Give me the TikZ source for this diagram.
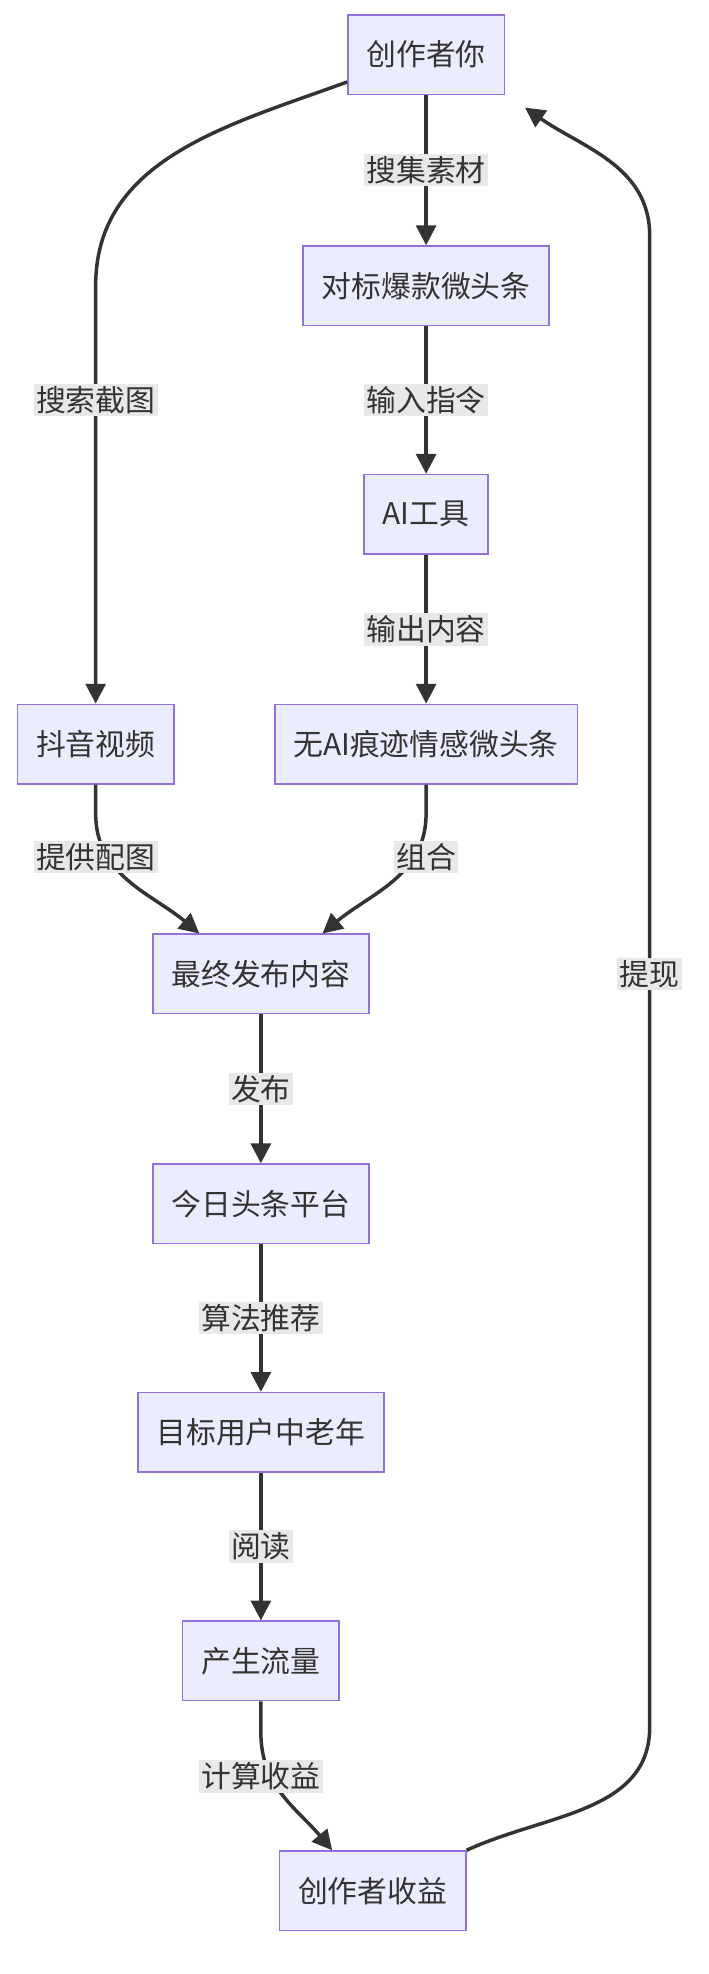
\documentclass[tikz,border=0pt]{standalone}
\usepackage{fontspec}
\setmainfont{Noto Sans CJK SC}
\usetikzlibrary{arrows.meta,positioning}
\definecolor{boxfill}{HTML}{ECECFF}
\definecolor{boxline}{HTML}{9370DB}
\definecolor{edgecol}{HTML}{333333}
\definecolor{lblfill}{HTML}{E8E8E8}
\tikzset{
  font=\fontsize{12pt}{14pt}\selectfont,
  box/.style={
    draw=boxline,
    fill=boxfill,
    line width=0.6pt,
    text=edgecol,
    align=center,
    minimum height=32pt,
    inner xsep=7.5pt
  },
  lbl/.style={
    fill=lblfill,
    text=edgecol,
    inner sep=1pt
  },
  arrow/.style={-{Triangle[length=8pt,width=8pt]}, line width=1.4pt, draw=edgecol}
}
\begin{document}
\begin{tikzpicture}[x=0.5pt, y=-0.5pt]
\useasboundingbox (0,0) rectangle (570,1589);

% --- Nodes
\node[box] (you) at (343,44) {创作者你};
\node[box] (bench) at (343,230) {对标爆款微头条};
\node[box] (ai) at (343,414) {AI工具};
\node[box] (douyin) at (77,599) {抖音视频};
\node[box] (post) at (343,599) {无AI痕迹情感微头条};
\node[box] (final) at (210,784) {最终发布内容};
\node[box] (toutiao) at (210,969) {今日头条平台};
\node[box] (users) at (210,1153) {目标用户中老年};
\node[box] (traffic) at (210,1337) {产生流量};
\node[box] (income) at (300,1522) {创作者收益};

% --- Arrows
\draw[arrow] (you) -- node[lbl] {搜集素材} (bench);
\draw[arrow] (bench) -- node[lbl] {输入指令} (ai);
\draw[arrow] (ai) -- node[lbl] {输出内容} (post);
\draw[arrow] ([yshift=-11pt]you.west) to[out=200,in=90] (77,230) -- (douyin);
\draw[arrow] (douyin) -- (77,655) to[out=-90,in=140] ([xshift=19pt]final.north west);
\draw[arrow] (post) -- (343,655) to[out=-90,in=40] ([xshift=-19pt]final.north east);
\draw[arrow] (final) -- node[lbl] {发布} (toutiao);
\draw[arrow] (toutiao) -- node[lbl] {算法推荐} (users);
\draw[arrow] (users) -- node[lbl] {阅读} (traffic);
\draw[arrow] (traffic) -- (210,1395) to[out=-90,in=130] ([xshift=21.5pt]income.north west);
\draw[arrow] (income.north east) to[out=25,in=-90] (523,1390) -- (523,190) to[out=90,in=-35] ([xshift=8pt,yshift=-5pt]you.south east);

% --- Edge labels
\node[lbl] (l1) at (77,322) {搜索截图};
\node[lbl] (l2) at (77,690) {提供配图};
\node[lbl] (l3) at (343,690) {组合};
\node[lbl] (l4) at (210,1430) {计算收益};
\node[lbl] (l5) at (523,784) {提现};

\end{tikzpicture}
\end{document}
